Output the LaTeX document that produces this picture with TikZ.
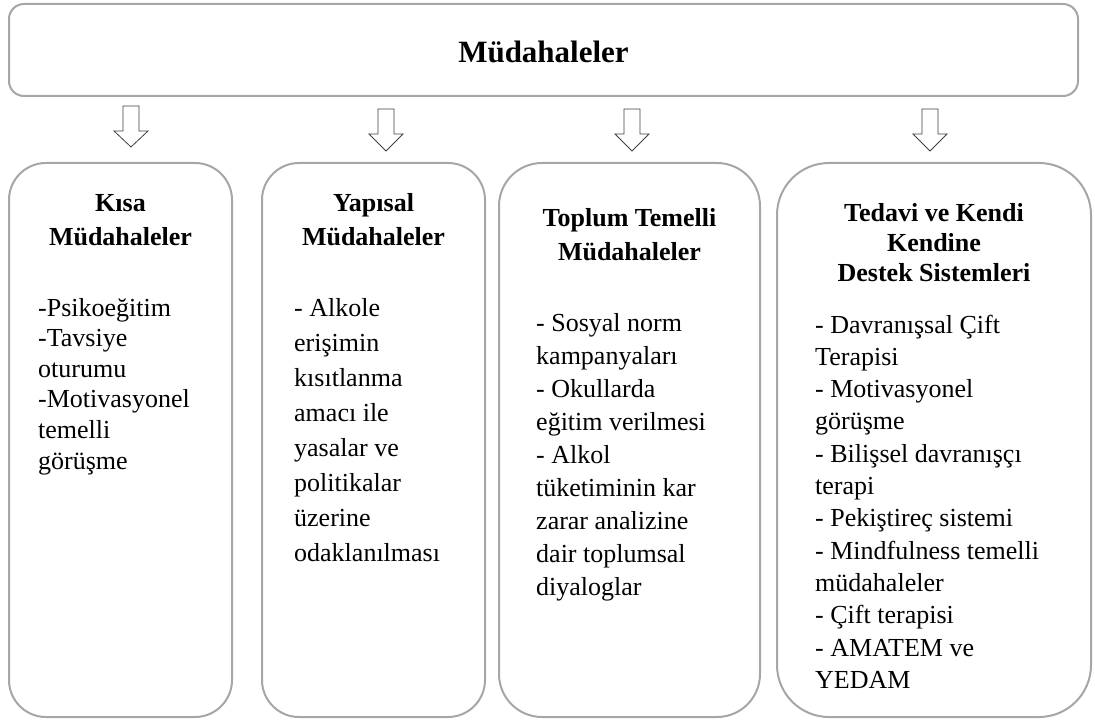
\documentclass[tikz,border=0pt]{standalone}
\usepackage{fontspec}
\setmainfont{Liberation Serif}
\definecolor{boxgray}{HTML}{A6A6A6}
\definecolor{arrgray}{HTML}{404040}
\newcommand{\blockarrow}[4]{%
  \draw[blockarr] ({#1-8},#2) -- ({#1+8},#2) -- ({#1+8},#3) -- ({#1+17},#3)
    -- (#1,#4) -- ({#1-17},#3) -- ({#1-8},#3) -- cycle;}
% #1 name prefix, #2 x, #3 first baseline, #4 line step, #5 lines
\newcommand{\bodylines}[5]{%
  \foreach \ln [count=\k] in {#5}
    \node[bodytext] (#1-\k) at (#2,{#3+#4*(\k-1)}) {\ln};}
\newcommand{\headlines}[5]{%
  \foreach \ln [count=\k] in {#5}
    \node[headtext] (#1-\k) at (#2,{#3+#4*(\k-1)}) {\ln};}
\tikzset{
  panel/.style={draw=boxgray, line width=2pt, inner sep=0pt},
  blockarr/.style={draw=arrgray, line width=0.8pt, fill=white, line join=miter},
  bodytext/.style={inner sep=0pt, anchor=base west, font=\fontsize{26}{31}\selectfont},
  headtext/.style={inner sep=0pt, anchor=base, font=\bfseries\fontsize{26}{31}\selectfont},
}
\begin{document}
\begin{tikzpicture}[x=1pt, y=-1pt]
\useasboundingbox (0,0) rectangle (1095,722);
% top box
\node[panel, rounded corners=15pt, minimum width=1069pt, minimum height=92pt] (top) at (543.5,50) {};
\node[inner sep=0pt, anchor=base, font=\bfseries\fontsize{31}{36}\selectfont] (title) at (543.5,63) {Müdahaleler};
% arrows
\blockarrow{131}{106}{131}{147}
\blockarrow{386}{109}{134}{151}
\blockarrow{632}{109}{134}{151}
\blockarrow{930}{109}{134}{151}
% panels
\node[panel, rounded corners=37pt, minimum width=223pt, minimum height=554pt] (b1) at (120.5,440) {};
\node[panel, rounded corners=37pt, minimum width=223pt, minimum height=554pt] (b2) at (373.5,440) {};
\node[panel, rounded corners=43pt, minimum width=261pt, minimum height=554pt] (b3) at (629.5,440) {};
\node[panel, rounded corners=52pt, minimum width=314pt, minimum height=554pt] (b4) at (934,440) {};
% headings
\headlines{h1}{120.5}{212}{34}{Kısa,Müdahaleler}
\headlines{h2}{373.5}{212}{34}{Yapısal,Müdahaleler}
\headlines{h3}{629.5}{227}{33}{Toplum Temelli,Müdahaleler}
\headlines{h4}{934}{222}{29.5}{Tedavi ve Kendi,Kendine,Destek Sistemleri}
% bodies
\bodylines{t1}{38}{316}{30.6}{-Psikoeğitim,-Tavsiye,oturumu,-Motivasyonel,temelli,görüşme}
\bodylines{t2}{294}{316}{35}{- Alkole,erişimin,kısıtlanma,amacı ile,yasalar ve,politikalar,üzerine,odaklanılması}
\bodylines{t3}{536}{331}{33}{- Sosyal norm,kampanyaları,- Okullarda,eğitim verilmesi,- Alkol,tüketiminin kar,zarar analizine,dair toplumsal,diyaloglar}
\bodylines{t4}{815}{333}{32.3}{- Davranışsal Çift,Terapisi,- Motivasyonel,görüşme,- Bilişsel davranışçı,terapi,- Pekiştireç sistemi,- Mindfulness temelli,müdahaleler,- Çift terapisi,- AMATEM ve,YEDAM}
\end{tikzpicture}
\end{document}
